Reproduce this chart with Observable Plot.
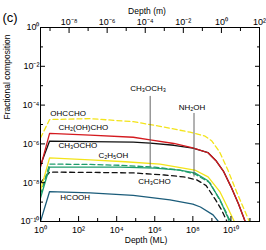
<!DOCTYPE html>
<html><head><meta charset="utf-8">
<script src="https://cdn.jsdelivr.net/npm/d3@7"></script>
<script src="https://cdn.jsdelivr.net/npm/@observablehq/plot@0.6"></script>
<style>body{margin:0;background:#fff} #chart svg{display:block}</style>
</head><body><div id="chart"></div>
<script>
// ---- data (depth in monolayers, fractional composition) ----
const depthOHCCHO = [1, 3, 400, 7.4e4, 1.9e6, 7.1e7, 4.4e8, 1e9, 2.6e9, 6.9e9, 2e10, 8.9e10];
const fracOHCCHO  = [2.0e-6, 1.8e-5, 2.0e-5, 1.4e-5, 8.1e-6, 4.0e-6, 2.5e-6, 1.4e-6, 3.7e-7, 4.5e-8, 3.3e-9, 1.1e-10];

const depthCH2OHCHO = [1, 3, 400, 7.4e4, 5.75e5, 1e7, 1e8, 6.3e8, 1.6e9, 4e9, 1e10, 2.5e10, 5.6e10];
const fracCH2OHCHO  = [6.3e-8, 3.5e-6, 2.8e-6, 2.2e-6, 1.6e-6, 1.05e-6, 6.3e-7, 3.5e-7, 1.4e-7, 4.0e-8, 6.3e-9, 7.9e-10, 1e-10];

const depthCH3OCHO = [1, 3, 400, 7.4e4, 5.75e5, 1e7, 1e8, 6.3e8, 1.6e9, 4e9, 1e10, 2.5e10, 5.6e10];
const fracCH3OCHO  = [7.9e-8, 1.4e-6, 1.3e-6, 1.23e-6, 1.1e-6, 8.5e-7, 6.0e-7, 3.5e-7, 1.4e-7, 4.0e-8, 6.3e-9, 7.9e-10, 1e-10];

const depthC2H5OH = [1, 3, 400, 2.8e4, 1.9e6, 1.26e8, 6.3e8, 2.6e9, 6.9e9, 1.5e10];
const fracC2H5OH  = [4e-9, 1.9e-7, 1.5e-7, 1.2e-7, 9.1e-8, 4.5e-8, 2.0e-8, 3.5e-9, 5e-10, 1e-10];

const depthCH3OCH3 = [1, 3, 400, 1.55e4, 1e6, 2e7, 1.26e8, 7.9e8, 2.6e9, 6.2e9, 7.9e9];
const fracCH3OCH3  = [2.5e-9, 9.1e-8, 8.7e-8, 7.9e-8, 6.3e-8, 4.5e-8, 2.8e-8, 1e-8, 1.26e-9, 2.5e-10, 1e-10];

const depthNH2OH = [1, 3, 400, 1.55e4, 1e6, 2e7, 1.26e8, 6.3e8, 2.6e9, 6.2e9, 1e10];
const fracNH2OH  = [1.6e-9, 6.3e-8, 6.3e-8, 6.3e-8, 5.6e-8, 4.5e-8, 3.2e-8, 1.26e-8, 1.4e-9, 2e-10, 1e-10];

const depthCH3CHO = [1, 3, 400, 7.4e4, 3.2e6, 3.2e7, 1.6e8, 5e8, 1.6e9, 3.2e9, 6.2e9];
const fracCH3CHO  = [1e-8, 3.5e-8, 3.4e-8, 3.2e-8, 2.5e-8, 2.0e-8, 1.4e-8, 7.1e-9, 1.26e-9, 4e-10, 1e-10];

const depthHCOOH = [1, 3, 400, 7.4e4, 6.3e6, 1e8, 2.5e8, 1.15e9, 2.2e9];
const fracHCOOH  = [1e-10, 3.5e-9, 3.0e-9, 2.2e-9, 1.3e-9, 7.9e-10, 5.6e-10, 2.2e-10, 1e-10];

// draw order (bottom to top)
const seriesNames = ["HCOOH", "CH3CHO", "NH2OH", "CH3OCH3", "C2H5OH", "CH3OCHO", "CH2OHCHO", "OHCCHO"];
const seriesData = {
  OHCCHO: [depthOHCCHO, fracOHCCHO], CH2OHCHO: [depthCH2OHCHO, fracCH2OHCHO],
  CH3OCHO: [depthCH3OCHO, fracCH3OCHO], C2H5OH: [depthC2H5OH, fracC2H5OH],
  CH3OCH3: [depthCH3OCH3, fracCH3OCH3], NH2OH: [depthNH2OH, fracNH2OH],
  CH3CHO: [depthCH3CHO, fracCH3CHO], HCOOH: [depthHCOOH, fracHCOOH]
};

// labels and pointers
const labelText  = ["OHCCHO", "CH₂(OH)CHO", "CH₃OCHO", "C₂H₅OH", "HCOOH", "CH₃CHO"];
const labelDepth = [3.3, 8.7, 8.7, 1.1e3, 11, 1.35e5];
const labelFrac  = [3.7e-5, 7.2e-6, 8.5e-7, 2.6e-7, 1.7e-9, 1.1e-8];
const pointerText  = ["CH₃OCH₃", "NH₂OH"];
const pointerDepth = [5.75e5, 1.15e8];
const pointerTop   = [2.8e-4, 3.7e-5];
const pointerBot   = [6.3e-8, 1.95e-8];
const pointerLabelFrac = [7.0e-4, 7.6e-5];

// axes
const xTicks = [1, 1e1, 1e2, 1e3, 1e4, 1e5, 1e6, 1e7, 1e8, 1e9, 1e10, 1e11];
const xLabelTicks = [1, 1e2, 1e4, 1e6, 1e8, 1e10];
const yTicks = [1, 1e-1, 1e-2, 1e-3, 1e-4, 1e-5, 1e-6, 1e-7, 1e-8, 1e-9, 1e-10];
const yLabelTicks = [1, 1e-2, 1e-4, 1e-6, 1e-8, 1e-10];
const topTicksM = [1e-9, 1e-8, 1e-7, 1e-6, 1e-5, 1e-4, 1e-3, 1e-2, 1e-1, 1, 1e1, 1e2];
const topLabelM = [1e-8, 1e-6, 1e-4, 1e-2, 1, 1e2];
const metersPerML = 3.162e-10;
const depthDomainML = [1, 3.162e11];

const colors = {OHCCHO:"#f3e41a", CH2OHCHO:"#d41a1f", CH3OCHO:"#111111", C2H5OH:"#f3e41a",
  CH3OCH3:"#1f9d6c", NH2OH:"#1f9d6c", CH3CHO:"#111111", HCOOH:"#1b5c7a"};
const dashes = {OHCCHO:"5,3", CH3OCH3:"5,3", CH3CHO:"5,3.5"};

const supMap = {"0":"⁰","1":"¹","2":"²","3":"³","4":"⁴","5":"⁵","6":"⁶","7":"⁷","8":"⁸","9":"⁹","-":"⁻"};
const pow10 = e => "10" + String(e).split("").map(c => supMap[c]).join("");
const fmtML = d => pow10(Math.round(Math.log10(d)));
const fmtM = d => pow10(Math.round(Math.log10(d * metersPerML)));
const isMajor = (d, arr) => arr.includes(d);

const font = "'Liberation Sans', Arial, Helvetica, sans-serif";
const marks = [];

for (const name of seriesNames) {
  const [dep, fr] = seriesData[name];
  const rows = dep.map((d, i) => ({depth: d, frac: fr[i]}));
  marks.push(Plot.line(rows, {x: "depth", y: "frac", stroke: colors[name], strokeWidth: 1.3,
    strokeDasharray: dashes[name] || null, clip: true}));
}

// pointers
const ptr = pointerText.map((t, i) => ({t, x: pointerDepth[i], y1: pointerTop[i], y2: pointerBot[i], ly: pointerLabelFrac[i]}));
marks.push(Plot.ruleX(ptr, {x: "x", y1: "y1", y2: "y2", stroke: "#555", strokeWidth: 0.9}));
marks.push(Plot.text(ptr, {x: "x", y: "ly", text: "t", fontSize: 8, fill: "#000", dx: -2}));

const lab = labelText.map((t, i) => ({t, x: labelDepth[i], y: labelFrac[i]}));
marks.push(Plot.text(lab, {x: "x", y: "y", text: "t", textAnchor: "start", fontSize: 8, fill: "#000"}));

// inward ticks
const xMinor = xTicks.filter(d => !isMajor(d, xLabelTicks));
const yMinor = yTicks.filter(d => !isMajor(d, yLabelTicks));
const topLabelML = topLabelM.map(m => m / metersPerML);
const topMinorML = topTicksM.filter(m => !topLabelM.includes(m)).map(m => m / metersPerML);

for (const anchor of ["left", "right"]) {
  marks.push(Plot.axisY({anchor, ticks: yLabelTicks, tickSize: -5, fill: "none", label: null, stroke: "#000"}));
  marks.push(Plot.axisY({anchor, ticks: yMinor, tickSize: -3, fill: "none", label: null, stroke: "#000"}));
}
marks.push(Plot.axisX({anchor: "bottom", ticks: xLabelTicks, tickSize: -5, fill: "none", label: null, stroke: "#000"}));
marks.push(Plot.axisX({anchor: "bottom", ticks: xMinor, tickSize: -3, fill: "none", label: null, stroke: "#000"}));
marks.push(Plot.axisX({anchor: "top", ticks: topLabelML, tickSize: -5, fill: "none", label: null, stroke: "#000"}));
marks.push(Plot.axisX({anchor: "top", ticks: topMinorML, tickSize: -3, fill: "none", label: null, stroke: "#000"}));

// tick labels
marks.push(Plot.axisY({anchor: "left", ticks: yLabelTicks, tickSize: 0, tickPadding: 1, tickFormat: fmtML, label: null, fontSize: 9, fill: "#000"}));
marks.push(Plot.axisX({anchor: "bottom", ticks: xLabelTicks, tickSize: 0, tickPadding: 5, tickFormat: fmtML, label: null, fontSize: 9, fill: "#000"}));
marks.push(Plot.axisX({anchor: "top", ticks: topLabelML, tickSize: 0, tickPadding: 3, tickFormat: fmtM, label: null, fontSize: 9, fill: "#000"}));

marks.push(Plot.frame({stroke: "#000", strokeWidth: 1}));

// titles
marks.push(Plot.text(["Fractional composition"], {frameAnchor: "left", rotate: -90, dx: -33, dy: -5, fontSize: 8.5, fill: "#000"}));
marks.push(Plot.text(["Depth (ML)"], {frameAnchor: "bottom", dy: 21, dx: -4, fontSize: 8.5, fill: "#000"}));
marks.push(Plot.text(["Depth (m)"], {frameAnchor: "top", dy: -20, dx: -3, fontSize: 8.5, fill: "#000"}));
marks.push(Plot.text(["(c)"], {frameAnchor: "top-left", dx: -38, dy: -15, textAnchor: "start", fontSize: 13, fill: "#000"}));

const chart = Plot.plot({
  width: 266, height: 250,
  marginLeft: 40, marginRight: 7, marginTop: 27, marginBottom: 29,
  x: {type: "log", domain: depthDomainML},
  y: {type: "log", domain: [1e-10, 1]},
  style: {fontFamily: font, background: "#fff", color: "#000"},
  marks
});
document.getElementById("chart").appendChild(chart);
</script></body></html>
